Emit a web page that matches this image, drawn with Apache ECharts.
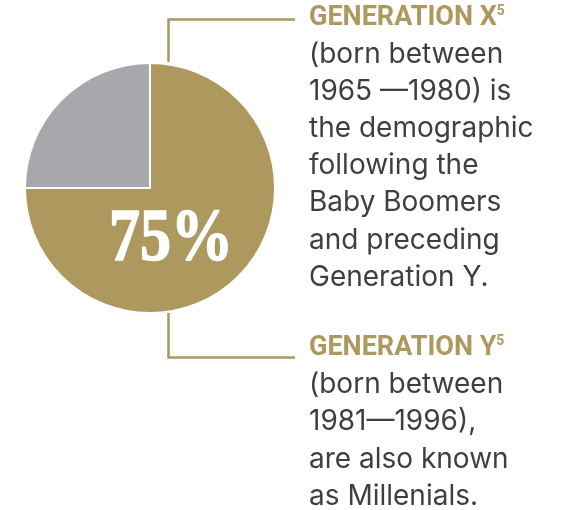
<!DOCTYPE html>
<html>
<head>
<meta charset="utf-8">
<title>Generation X / Y</title>
<script src="https://cdn.jsdelivr.net/npm/echarts@6/dist/echarts.min.js"></script>
<style>
  html, body { margin: 0; padding: 0; background: #fff; }
  #main { width: 564px; height: 510px; }
</style>
</head>
<body>
<div id="main"></div>
<script>
// slice data
const sliceNames = ['Generation X & Y', 'Other'];
const sliceValues = [75, 25];
const sliceColors = ['#ad985e', '#a7a8ac'];

// side notes
const xTitle = 'GENERATION X';
const xLines = ['(born between', '1965 \u20141980) is', 'the demographic', 'following the', 'Baby Boomers', 'and preceding', 'Generation Y.'];
const yTitle = 'GENERATION Y';
const yLines = ['(born between', '1981\u20141996),', 'are also known', 'as Millenials.'];
const footnote = '5';

const gold = '#ad985e';
const textColor = '#3f3f3f';
const textX = 309;
const lineGap = 37.2;

const chart = echarts.init(document.getElementById('main'));

const total = sliceValues.reduce((a, b) => a + b, 0);
const mainPct = Math.round(sliceValues[0] / total * 100) + '%';

// heading + body lines, titleBase = baseline of the heading
const textBlock = (title, lines, titleBase) => {
  const els = [{
    type: 'text',
    x: textX,
    y: titleBase - 9,
    style: {
      text: '{h|' + title + '}{s|' + footnote + '}',
      verticalAlign: 'middle',
      rich: {
        h: { fontFamily: 'Roboto', fontWeight: 'bold', fontSize: 27, fill: gold, lineHeight: 28 },
        s: { fontFamily: 'Roboto', fontWeight: 'bold', fontSize: 14, fill: gold, verticalAlign: 'top', lineHeight: 14 }
      }
    }
  }];
  lines.forEach((t, i) => {
    els.push({
      type: 'text',
      x: textX,
      y: titleBase + lineGap * (i + 1) - 10,
      style: {
        text: t,
        font: '28px Inter',
        fill: textColor,
        verticalAlign: 'middle'
      }
    });
  });
  return els;
};

const option = {
  animation: false,
  color: sliceColors,
  series: [
    {
      type: 'pie',
      center: [150, 188],
      radius: 125,
      startAngle: 90,
      clockwise: true,
      silent: true,
      itemStyle: {
        borderColor: '#fff',
        borderWidth: 2
      },
      label: { show: false },
      labelLine: { show: false },
      emphasis: { disabled: true },
      data: sliceNames.map((n, i) => ({ name: n, value: sliceValues[i] }))
    }
  ],
  graphic: [
    {
      type: 'polyline',
      shape: { points: [[295, 19.5], [168.5, 19.5], [168.5, 62]] },
      style: { stroke: gold, lineWidth: 2.5, fill: null }
    },
    {
      type: 'polyline',
      shape: { points: [[168.5, 313], [168.5, 357.5], [295, 357.5]] },
      style: { stroke: gold, lineWidth: 2.5, fill: null }
    },
    {
      // big white percentage, condensed a bit to match the display serif
      type: 'text',
      x: 171,
      y: 241,
      scaleX: 0.85,
      z: 10,
      style: {
        text: mainPct,
        font: 'bold 73px "Liberation Serif"',
        fill: '#fff',
        stroke: '#fff',
        lineWidth: 1.5,
        align: 'center',
        verticalAlign: 'middle'
      }
    },
    ...textBlock(xTitle, xLines, 27),
    ...textBlock(yTitle, yLines, 357.5)
  ]
};

chart.setOption(option);
</script>
</body>
</html>
